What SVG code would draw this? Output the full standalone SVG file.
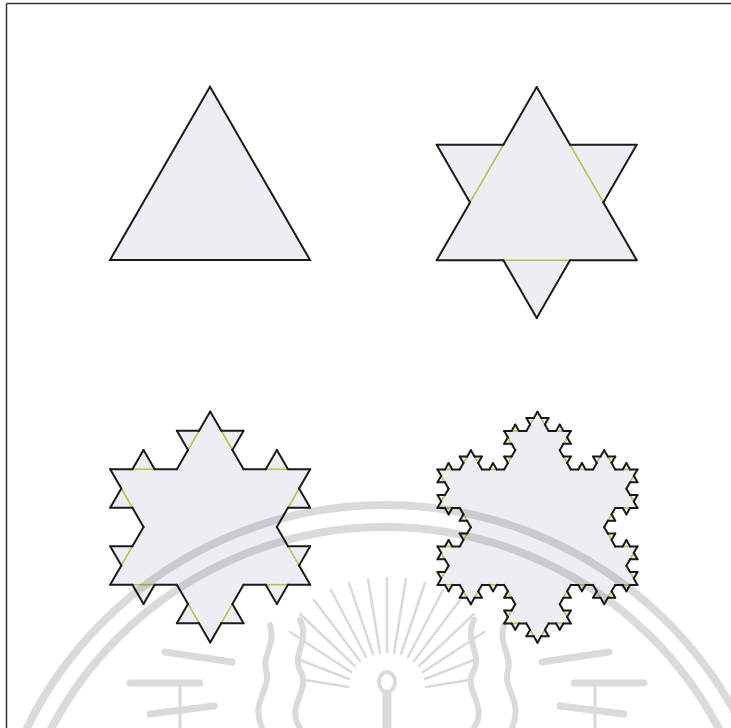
<svg xmlns="http://www.w3.org/2000/svg" xmlns:xlink="http://www.w3.org/1999/xlink" width="731" height="728" viewBox="0 0 731 728">
<style>
.ol{stroke:#1a1a1a;stroke-width:2;stroke-linecap:round;fill:none;vector-effect:non-scaling-stroke}
.yl{stroke:#b9c34a;stroke-width:1.6;fill:none;vector-effect:non-scaling-stroke}
.fl{fill:#efedf3;stroke:#efedf3;stroke-width:1;stroke-linejoin:round;vector-effect:non-scaling-stroke}
.tri{fill:#efedf3;stroke:#1a1a1a;stroke-width:2;stroke-linejoin:miter}
.frame{stroke:#333;stroke-width:1.5;fill:none}
.wm{fill:none;stroke:#dadada;stroke-linecap:round}
</style>
<defs>
<g id="c0"><line x1="0" y1="0" x2="1" y2="0" class="ol" vector-effect="non-scaling-stroke"/></g>
<g id="c1"><use href="#c0" transform="scale(0.333333)"/><use href="#c0" transform="translate(0.333333,0) rotate(-60) scale(0.333333)"/><use href="#c0" transform="translate(0.5,-0.288675) rotate(60) scale(0.333333)"/><use href="#c0" transform="translate(0.666667,0) scale(0.333333)"/></g>
<g id="c2"><use href="#c1" transform="scale(0.333333)"/><use href="#c1" transform="translate(0.333333,0) rotate(-60) scale(0.333333)"/><use href="#c1" transform="translate(0.5,-0.288675) rotate(60) scale(0.333333)"/><use href="#c1" transform="translate(0.666667,0) scale(0.333333)"/></g>
<g id="c3"><use href="#c2" transform="scale(0.333333)"/><use href="#c2" transform="translate(0.333333,0) rotate(-60) scale(0.333333)"/><use href="#c2" transform="translate(0.5,-0.288675) rotate(60) scale(0.333333)"/><use href="#c2" transform="translate(0.666667,0) scale(0.333333)"/></g>
<g id="y1"><line x1="0.333333" y1="0" x2="0.666667" y2="0" class="yl" vector-effect="non-scaling-stroke"/></g>
<g id="y2"><use href="#y1" transform="scale(0.333333)"/><use href="#y1" transform="translate(0.333333,0) rotate(-60) scale(0.333333)"/><use href="#y1" transform="translate(0.5,-0.288675) rotate(60) scale(0.333333)"/><use href="#y1" transform="translate(0.666667,0) scale(0.333333)"/></g>
<g id="y3"><use href="#y2" transform="scale(0.333333)"/><use href="#y2" transform="translate(0.333333,0) rotate(-60) scale(0.333333)"/><use href="#y2" transform="translate(0.5,-0.288675) rotate(60) scale(0.333333)"/><use href="#y2" transform="translate(0.666667,0) scale(0.333333)"/></g>
<g id="b1"><polygon points="0.333333,0 0.5,-0.288675 0.666667,0" class="fl" vector-effect="non-scaling-stroke"/></g>
<g id="b2"><use href="#b1"/><use href="#b1" transform="scale(0.333333)"/><use href="#b1" transform="translate(0.333333,0) rotate(-60) scale(0.333333)"/><use href="#b1" transform="translate(0.5,-0.288675) rotate(60) scale(0.333333)"/><use href="#b1" transform="translate(0.666667,0) scale(0.333333)"/></g>
<g id="b3"><use href="#b1"/><use href="#b2" transform="scale(0.333333)"/><use href="#b2" transform="translate(0.333333,0) rotate(-60) scale(0.333333)"/><use href="#b2" transform="translate(0.5,-0.288675) rotate(60) scale(0.333333)"/><use href="#b2" transform="translate(0.666667,0) scale(0.333333)"/></g>
</defs>
<rect width="731" height="728" fill="#ffffff"/>
<g id="frame">
<line class="frame" x1="6.5" y1="3.5" x2="731" y2="3.5"/>
<line class="frame" x1="6.5" y1="3.5" x2="6.5" y2="728"/>
</g>
<g id="flake0">
<polygon class="tri" points="210,86.8 310,260 110,260"/>
</g>
<g id="flake1">
<polygon class="fl" points="536.7,87 636.7,260.2 436.7,260.2"/>
<use href="#b1" transform="translate(536.7,87) rotate(60) scale(200)"/>
<use href="#b1" transform="translate(636.7,260.2) rotate(180) scale(200)"/>
<use href="#b1" transform="translate(436.7,260.2) rotate(-60) scale(200)"/>
<use href="#y1" transform="translate(536.7,87) rotate(60) scale(200)"/>
<use href="#y1" transform="translate(636.7,260.2) rotate(180) scale(200)"/>
<use href="#y1" transform="translate(436.7,260.2) rotate(-60) scale(200)"/>
<use href="#c1" transform="translate(536.7,87) rotate(60) scale(200)"/>
<use href="#c1" transform="translate(636.7,260.2) rotate(180) scale(200)"/>
<use href="#c1" transform="translate(436.7,260.2) rotate(-60) scale(200)"/>
</g>
<g id="flake2">
<polygon class="fl" points="210.2,411.5 310.2,584.7 110.2,584.7"/>
<use href="#b2" transform="translate(210.2,411.5) rotate(60) scale(200)"/>
<use href="#b2" transform="translate(310.2,584.7) rotate(180) scale(200)"/>
<use href="#b2" transform="translate(110.2,584.7) rotate(-60) scale(200)"/>
<use href="#y2" transform="translate(210.2,411.5) rotate(60) scale(200)"/>
<use href="#y2" transform="translate(310.2,584.7) rotate(180) scale(200)"/>
<use href="#y2" transform="translate(110.2,584.7) rotate(-60) scale(200)"/>
<use href="#c2" transform="translate(210.2,411.5) rotate(60) scale(200)"/>
<use href="#c2" transform="translate(310.2,584.7) rotate(180) scale(200)"/>
<use href="#c2" transform="translate(110.2,584.7) rotate(-60) scale(200)"/>
</g>
<g id="flake3">
<polygon class="fl" points="537.5,411.7 637.5,584.9 437.5,584.9"/>
<use href="#b3" transform="translate(537.5,411.7) rotate(60) scale(200)"/>
<use href="#b3" transform="translate(637.5,584.9) rotate(180) scale(200)"/>
<use href="#b3" transform="translate(437.5,584.9) rotate(-60) scale(200)"/>
<use href="#y3" transform="translate(537.5,411.7) rotate(60) scale(200)"/>
<use href="#y3" transform="translate(637.5,584.9) rotate(180) scale(200)"/>
<use href="#y3" transform="translate(437.5,584.9) rotate(-60) scale(200)"/>
<use href="#c3" transform="translate(537.5,411.7) rotate(60) scale(200)"/>
<use href="#c3" transform="translate(637.5,584.9) rotate(180) scale(200)"/>
<use href="#c3" transform="translate(437.5,584.9) rotate(-60) scale(200)"/>
</g>
<g id="watermark" style="mix-blend-mode:multiply">
<circle class="wm" cx="385" cy="904" r="399" stroke-width="8"/>
<circle class="wm" cx="385" cy="904" r="377" stroke-width="8"/>
<g class="wm" stroke-width="2.5">
<line x1="387" y1="652" x2="387" y2="578"/>
<line x1="380" y1="653" x2="368" y2="579"/>
<line x1="394" y1="653" x2="406" y2="579"/>
<line x1="373" y1="654" x2="349" y2="583"/>
<line x1="401" y1="654" x2="425" y2="583"/>
<line x1="366" y1="657" x2="331" y2="590"/>
<line x1="408" y1="657" x2="443" y2="590"/>
<line x1="360" y1="661" x2="314" y2="600"/>
<line x1="414" y1="661" x2="460" y2="600"/>
<line x1="355" y1="666" x2="300" y2="614"/>
<line x1="419" y1="666" x2="474" y2="614"/>
<line x1="351" y1="672" x2="290" y2="632"/>
<line x1="423" y1="672" x2="484" y2="632"/>
<line x1="349" y1="679" x2="300" y2="660"/>
<line x1="425" y1="679" x2="474" y2="660"/>
<line x1="348" y1="687" x2="305" y2="680"/>
<line x1="426" y1="687" x2="469" y2="680"/>
</g>
<ellipse cx="387" cy="682" rx="8" ry="10" fill="none" stroke="#dadada" stroke-width="4"/>
<line class="wm" x1="387" y1="694" x2="387" y2="728" stroke-width="9"/>
<g class="wm" stroke-width="7">
<line x1="165" y1="652" x2="232" y2="662"/>
<line x1="130" y1="683" x2="200" y2="683"/>
<line x1="150" y1="714" x2="214" y2="706"/>
<line x1="609" y1="652" x2="542" y2="662"/>
<line x1="644" y1="683" x2="574" y2="683"/>
<line x1="624" y1="714" x2="560" y2="706"/>
</g>
<g class="wm" stroke-width="6">
<path d="M262,728 C250,700 272,690 266,670 C262,655 276,645 270,625"/>
<path d="M300,728 C285,705 312,690 300,670 C292,655 310,640 300,620"/>
<path d="M512,728 C524,700 502,690 508,670 C512,655 498,645 504,625"/>
<path d="M474,728 C489,705 462,690 474,670 C482,655 464,640 474,620"/>
</g>
<g class="wm" stroke-width="3">
<line x1="180" y1="684" x2="180" y2="728"/>
<line x1="595" y1="684" x2="595" y2="728"/>
</g>
</g>
</svg>
